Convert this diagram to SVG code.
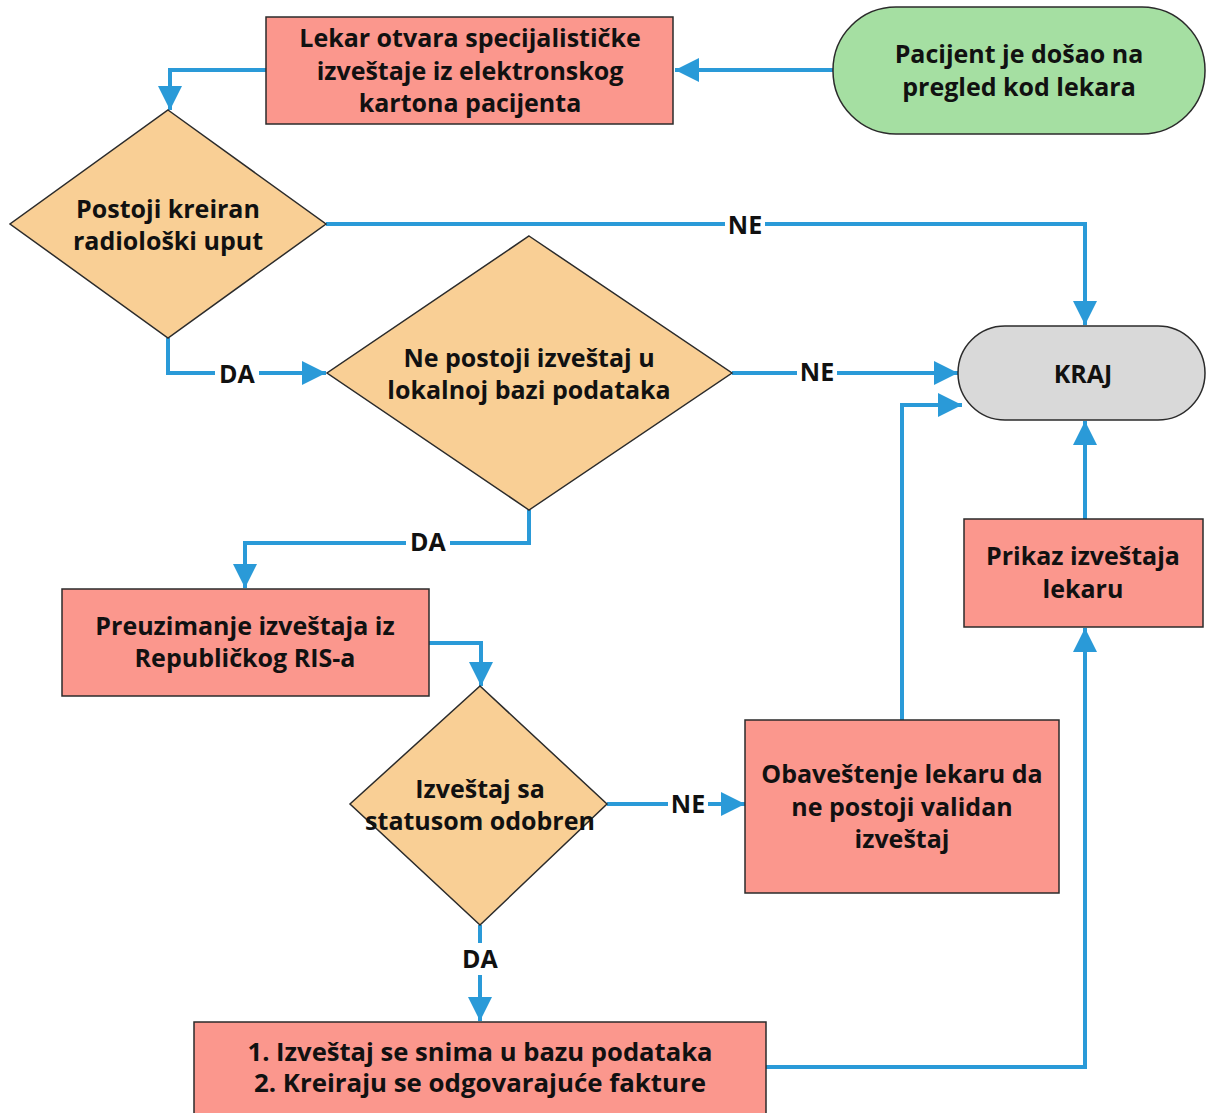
<svg xmlns="http://www.w3.org/2000/svg" width="1206" height="1113" viewBox="0 0 1206 1113">
  <style>
    .proc { fill: #FB978D; stroke: #2b2b2b; stroke-width: 1.5; }
    .dec { fill: #F9CF95; stroke: #2b2b2b; stroke-width: 1.5; }
    .start { fill: #A5DFA2; stroke: #2b2b2b; stroke-width: 1.5; }
    .end { fill: #D9D9D9; stroke: #2b2b2b; stroke-width: 1.5; }
    .t { font-family: "Open Sans", "Noto Sans", "Liberation Sans", sans-serif; font-weight: 700; font-size: 25px; fill: #111; text-anchor: middle; dominant-baseline: central; }
    .edge { fill: none; stroke: #2A9AD8; stroke-width: 4; marker-end: url(#arrow); }
    .lbl-bg { fill: #ffffff; }
  </style>
  <defs>
    <marker id="arrow" markerUnits="userSpaceOnUse" markerWidth="26" markerHeight="26" refX="24" refY="12" orient="auto">
      <path d="M0,0 L24,12 L0,24 Z" fill="#2A9AD8"/>
    </marker>
  </defs>

  <rect width="1206" height="1113" fill="#ffffff"/>

  <!-- connectors -->
  <g id="connectors">
    <path class="edge" d="M833,70 L675,70"/>
    <path class="edge" d="M266,70 L170,70 L170,110"/>
    <path class="edge" d="M326,224 L1085,224 L1085,325"/>
    <path class="edge" d="M168,338 L168,373 L326,373"/>
    <path class="edge" d="M732,373 L958,373"/>
    <path class="edge" d="M529,510 L529,543 L245,543 L245,588"/>
    <path class="edge" d="M429,643 L481,643 L481,686"/>
    <path class="edge" d="M607,804 L745,804"/>
    <path class="edge" d="M902,720 L902,405 L962,405"/>
    <path class="edge" d="M1085,519 L1085,421"/>
    <path class="edge" d="M480,925 L480,1021"/>
    <path class="edge" d="M766,1067 L1085,1067 L1085,628"/>

    <!-- branch labels -->
    <rect class="lbl-bg" x="725" y="210" width="40" height="28"/>
    <text class="t" x="745" y="224">NE</text>
    <rect class="lbl-bg" x="215" y="359" width="44" height="28"/>
    <text class="t" x="237" y="373">DA</text>
    <rect class="lbl-bg" x="797" y="359" width="40" height="28"/>
    <text class="t" x="817" y="371">NE</text>
    <rect class="lbl-bg" x="406" y="529" width="44" height="28"/>
    <text class="t" x="428" y="541">DA</text>
    <rect class="lbl-bg" x="668" y="790" width="40" height="28"/>
    <text class="t" x="688" y="803">NE</text>
    <rect class="lbl-bg" x="458" y="943" width="44" height="32"/>
    <text class="t" x="480" y="958">DA</text>
  </g>

  <g id="start">
    <rect class="start" x="833" y="7" width="372" height="127" rx="63" ry="63"/>
    <text class="t" x="1019" y="53">Pacijent je došao na</text>
    <text class="t" x="1019" y="86">pregled kod lekara</text>
  </g>

  <g id="open-reports">
    <rect class="proc" x="266" y="17" width="407" height="107"/>
    <text class="t" x="470" y="37">Lekar otvara specijalističke</text>
    <text class="t" x="470" y="70">izveštaje iz elektronskog</text>
    <text class="t" x="470" y="102">kartona pacijenta</text>
  </g>

  <g id="has-referral">
    <polygon class="dec" points="168,110 326,224 168,338 10,224"/>
    <text class="t" x="168" y="208">Postoji kreiran</text>
    <text class="t" x="168" y="240">radiološki uput</text>
  </g>

  <g id="no-local-report">
    <polygon class="dec" points="529,236 732,373 529,510 327,373"/>
    <text class="t" x="529" y="357">Ne postoji izveštaj u</text>
    <text class="t" x="529" y="389">lokalnoj bazi podataka</text>
  </g>

  <g id="end">
    <rect class="end" x="958" y="326" width="247" height="94" rx="47" ry="47"/>
    <text class="t" x="1083" y="373">KRAJ</text>
  </g>

  <g id="fetch-report">
    <rect class="proc" x="62" y="589" width="367" height="107"/>
    <text class="t" x="245" y="625">Preuzimanje izveštaja iz</text>
    <text class="t" x="245" y="657">Republičkog RIS-a</text>
  </g>

  <g id="approved">
    <polygon class="dec" points="480,686 607,804 480,925 350,804"/>
    <text class="t" x="480" y="788">Izveštaj sa</text>
    <text class="t" x="480" y="820">statusom odobren</text>
  </g>

  <g id="notify-invalid">
    <rect class="proc" x="745" y="720" width="314" height="173"/>
    <text class="t" x="902" y="773">Obaveštenje lekaru da</text>
    <text class="t" x="902" y="806">ne postoji validan</text>
    <text class="t" x="902" y="838">izveštaj</text>
  </g>

  <g id="show-report">
    <rect class="proc" x="964" y="519" width="239" height="108"/>
    <text class="t" x="1083" y="555">Prikaz izveštaja</text>
    <text class="t" x="1083" y="588">lekaru</text>
  </g>

  <g id="save-report">
    <rect class="proc" x="194" y="1022" width="572" height="95"/>
    <text class="t" x="480" y="1051" textLength="465" lengthAdjust="spacingAndGlyphs">1. Izveštaj se snima u bazu podataka</text>
    <text class="t" x="480" y="1082" textLength="452" lengthAdjust="spacingAndGlyphs">2. Kreiraju se odgovarajuće fakture</text>
  </g>
</svg>
